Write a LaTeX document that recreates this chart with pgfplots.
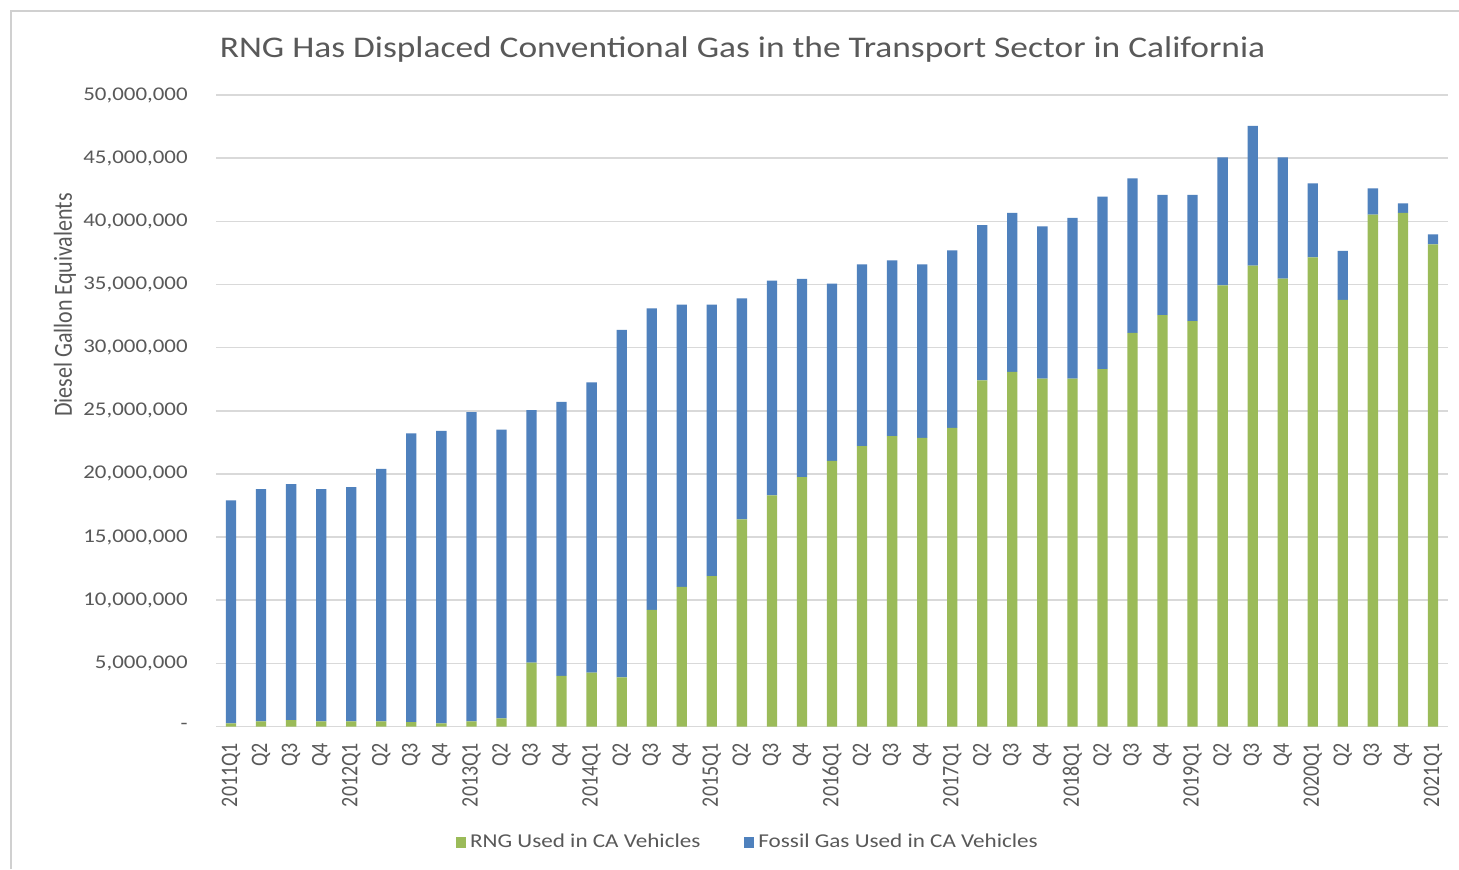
\documentclass[border=0pt]{standalone}
\usepackage{pgfplots}
\pgfplotsset{compat=1.18}
\usepackage{pgfplotstable}
\usepackage{fontspec}
\setmainfont{Carlito}
\newfontfamily\wide{Carlito}[FakeStretch=1.18]
\definecolor{rng}{HTML}{9BBB59}
\definecolor{fos}{HTML}{4F81BD}
\definecolor{grd}{HTML}{D9D9D9}
\definecolor{txt}{HTML}{595959}
\definecolor{frm}{HTML}{D0D0D0}

\pgfplotstableread{
x rng fossil
0 250000 17650000
1 400000 18400000
2 500000 18700000
3 400000 18400000
4 400000 18550000
5 400000 20000000
6 350000 22850000
7 250000 23150000
8 400000 24500000
9 650000 22850000
10 5050000 20000000
11 4000000 21700000
12 4270000 22980000
13 3900000 27500000
14 9230000 23870000
15 11050000 22350000
16 11900000 21500000
17 16400000 17500000
18 18300000 17000000
19 19750000 15700000
20 21040000 14020000
21 22200000 14400000
22 23000000 13900000
23 22860000 13740000
24 23650000 14050000
25 27400000 12300000
26 28070000 12590000
27 27540000 12060000
28 27540000 12730000
29 28300000 13660000
30 31160000 12240000
31 32580000 9510000
32 32100000 9990000
33 34930000 10140000
34 36500000 11060000
35 35460000 9610000
36 37150000 5860000
37 33770000 3880000
38 40530000 2070000
39 40660000 770000
40 38180000 790000
}\data

\begin{document}
\begin{tikzpicture}
\path[use as bounding box, fill=white] (0,0) rectangle (729.5pt,434.5pt);
\draw[frm, line width=1pt] (5.5pt,0) -- (5.5pt,429pt) -- (729.5pt,429pt);
\node[txt, font=\wide\fontsize{15}{17}\selectfont] at (371.3pt,409.5pt) {RNG Has Displaced Conventional Gas in the Transport Sector in California};
\node[txt, xscale=1.18, rotate=90, font=\fontsize{11}{13}\selectfont] at (32.5pt,282pt) {Diesel Gallon Equivalents};
\begin{axis}[
  at={(108pt,71.25pt)}, anchor=south west,
  width=616pt, height=315.75pt, scale only axis,
  ybar stacked, bar width=5.15pt,
  xmin=-0.5, xmax=40.5, ymin=0, ymax=50000000,
  xtick={0,...,40},
  xticklabels={2011Q1,Q2,Q3,Q4,2012Q1,Q2,Q3,Q4,2013Q1,Q2,Q3,Q4,2014Q1,Q2,Q3,Q4,2015Q1,Q2,Q3,Q4,2016Q1,Q2,Q3,Q4,2017Q1,Q2,Q3,Q4,2018Q1,Q2,Q3,Q4,2019Q1,Q2,Q3,Q4,2020Q1,Q2,Q3,Q4,2021Q1},
  ytick={0,5000000,10000000,15000000,20000000,25000000,30000000,35000000,40000000,45000000,50000000},
  yticklabels={{-\hspace{7.5pt}},{5,000,000},{10,000,000},{15,000,000},{20,000,000},{25,000,000},{30,000,000},{35,000,000},{40,000,000},{45,000,000},{50,000,000}},
  scaled y ticks=false,
  /pgf/number format/assume math mode=true,
  axis line style={draw=none}, major tick length=0pt,
  ymajorgrids, grid style={grd, line width=0.75pt},
  tick label style={txt},
  yticklabel style={anchor=east, inner sep=0pt, xshift=-14pt, font=\wide\fontsize{9.7}{11}\selectfont},
  xticklabel style={xscale=1.18, rotate=90, anchor=east, inner sep=0pt, font=\fontsize{10}{12}\selectfont},
  xticklabel shift=8pt,
  legend image code/.code={\fill[#1] (0pt,-2.75pt) rectangle (5pt,2.75pt);},
  legend style={at={(0.4326,-0.1829)}, anchor=center, draw=none, legend columns=2,
    font=\wide\fontsize{9.8}{12}\selectfont, text=txt,
    /tikz/every even column/.append style={column sep=20pt}},
]
\addplot[fill=rng, draw=none] table[x=x, y=rng] {\data};
\addplot[fill=fos, draw=none] table[x=x, y=fossil] {\data};
\legend{RNG Used in CA Vehicles, Fossil Gas Used in CA Vehicles}
\end{axis}
\end{tikzpicture}
\end{document}
